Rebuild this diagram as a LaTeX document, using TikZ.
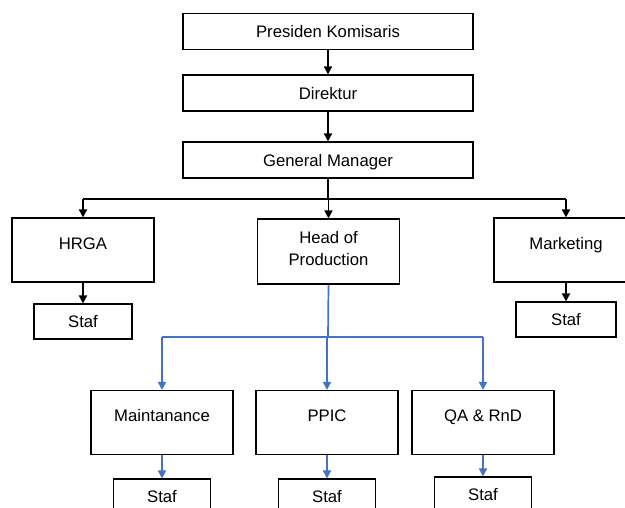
\documentclass[tikz,border=0pt]{standalone}
\usepackage{fontspec}
\setmainfont{Liberation Sans}
\usetikzlibrary{arrows.meta}
\definecolor{linkblue}{RGB}{68,114,196}
\tikzset{
  box/.style={draw, line width=1.1pt, fill=white, minimum width=142pt, minimum height=36pt,
    inner sep=0pt, text height=12pt, text depth=0pt, align=center,
    font=\fontsize{16.7}{22}\selectfont},
  widebox/.style={box, minimum width=290pt},
  tallbox/.style={box, minimum height=64pt, text depth=14pt},
  stafbox/.style={box, minimum width=98pt, minimum height=35pt},
  link/.style={line width=1.7pt, -{Triangle[length=8pt,width=8pt]}},
  bluelink/.style={link, color=linkblue}
}

\begin{document}
\begin{tikzpicture}[x=1pt, y=-1pt]
        \useasboundingbox (0,0) rectangle (625,507);
        \clip (0,0) rectangle (625,507);
        % top of the chart
        \node[widebox] (pk) at (328,31.5) {Presiden Komisaris};
        \node[widebox] (dir) at (328,93) {Direktur};
        \node[widebox] (gm) at (328,160) {General Manager};
        \draw[link] (pk) -- (dir);
        \draw[link] (dir) -- (gm);
        % second level
        \node[tallbox] (hrga) at (83,250) {HRGA};
        \node[box, minimum height=65pt, text height=34pt, text depth=7pt] (hop) at (328.5,251.5) {Head of\\Production};
        \node[tallbox, minimum width=144pt] (mkt) at (566,250) {Marketing};
        \node[stafbox] (hrgastaf) at (83,321.5) {Staf};
        \node[stafbox, minimum width=100pt] (mktstaf) at (566,319.5) {Staf};
        \coordinate (gmbar) at (328,199);
        \draw[line width=1.7pt] (gm) -- (gmbar);
        \draw[line width=1.7pt] (gmbar -| hrga.north) -- (gmbar -| mkt.north);
        \foreach \n in {hrga,hop,mkt}{
          \draw[link] (gmbar -| \n.north) -- (\n.north);
        }
        \draw[link] (hrga) -- (hrgastaf);
        \draw[link] (mkt) -- (mktstaf);
        % production
        \node[tallbox] (maint) at (162,422.5) {Maintanance};
        \node[tallbox] (ppic) at (327,422.5) {PPIC};
        \node[tallbox] (qa) at (483,422.5) {QA \& RnD};
        \node[stafbox, minimum width=97pt] (maintstaf) at (162,496.5) {Staf};
        \node[stafbox, minimum width=97pt] (ppicstaf) at (327,496.5) {Staf};
        \node[stafbox, minimum width=97pt] (qastaf) at (483,494.5) {Staf};
        \coordinate (hopbar) at (328,337);
        \draw[line width=1.7pt, linkblue] (hop.south) -- (hopbar);
        \draw[line width=1.7pt, linkblue] (hopbar -| maint.north) -- (hopbar -| qa.north);
        \foreach \n in {maint,ppic,qa}{
          \draw[bluelink] (hopbar -| \n.north) -- (\n.north);
          \draw[bluelink] (\n) -- (\n staf);
        }
      \end{tikzpicture}
\end{document}
